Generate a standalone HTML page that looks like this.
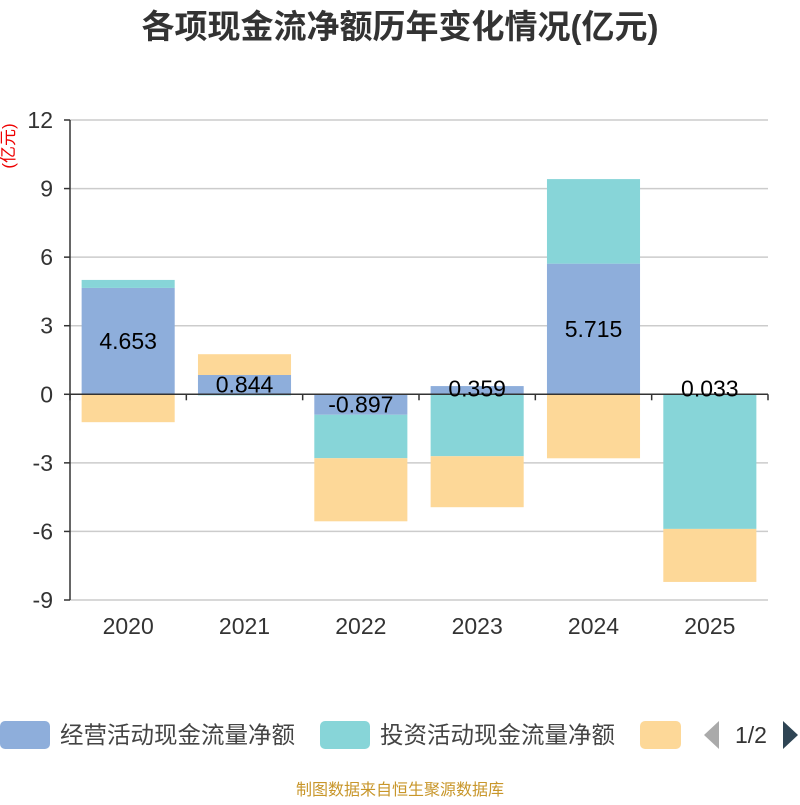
<!DOCTYPE html>
<html><head><meta charset="utf-8"><style>
body{margin:0;background:#fff;}
svg text{font-family:"Liberation Sans","Noto Sans CJK SC",sans-serif;}
</style></head><body>
<svg width="800" height="800" viewBox="0 0 800 800" xmlns="http://www.w3.org/2000/svg">
<text x="400" y="38" text-anchor="middle" font-size="33" font-weight="bold" fill="#333">各项现金流净额历年变化情况(亿元)</text>
<text transform="translate(14,146) rotate(-90)" text-anchor="middle" font-size="17" fill="#e00">(亿元)</text>
<g id="grid"></g>
<g id="bars"></g>
<g id="axes"></g>
<g id="labels"></g>
<g>
<rect x="0" y="721" width="50" height="28" rx="5" fill="#8eaedb"/>
<text x="60" y="743" font-size="23.5" fill="#444">经营活动现金流量净额</text>
<rect x="320" y="721" width="50" height="28" rx="5" fill="#87d5d8"/>
<text x="380" y="743" font-size="23.5" fill="#444">投资活动现金流量净额</text>
<rect x="640" y="721" width="41" height="28" rx="5" fill="#fdd898"/>
<polygon points="719,721 719,749 704,735" fill="#aaa"/>
<text x="751" y="743" text-anchor="middle" font-size="23" fill="#333">1/2</text>
<polygon points="783,721 783,749 798,735" fill="#2f4554"/>
</g>
<text x="400" y="795" text-anchor="middle" font-size="16" fill="#c8962a">制图数据来自恒生聚源数据库</text>
</svg>
<script>
const categories=["2020","2021","2022","2023","2024","2025"];
const operating=[4.653,0.844,-0.897,0.359,5.715,0.033];
const investing=[0.35,-0.05,-1.9,-2.71,3.7,-5.89];
const financing=[-1.22,0.91,-2.76,-2.23,-2.8,-2.32];
const yTicks=[12,9,6,3,0,-3,-6,-9];
const NS="http://www.w3.org/2000/svg";
const x0=70,x1=768,yTop=120,yBot=600,yMax=12,yMin=-9;
const y=v=>yTop+(yMax-v)*(yBot-yTop)/(yMax-yMin);
const bw=(x1-x0)/categories.length;
const xc=i=>x0+bw*(i+0.5);
function mk(tag,attrs,parent){const e=document.createElementNS(NS,tag);for(const k in attrs)e.setAttribute(k,attrs[k]);parent.appendChild(e);return e;}
const grid=document.getElementById('grid'),axes=document.getElementById('axes'),bars=document.getElementById('bars'),labels=document.getElementById('labels');
yTicks.forEach(t=>{
  if(t!==0){const l=mk('line',{x1:x0,x2:x1,y1:y(t),y2:y(t),stroke:'#ccc','stroke-width':1.5},grid);
  
  }
  const tk=mk('line',{x1:x0-6,x2:x0,y1:y(t),y2:y(t),stroke:'#333','stroke-width':1.5},axes);
  
  
  const tx=mk('text',{x:x0-17,y:y(t)+8,'text-anchor':'end','font-size':23,fill:'#333'},axes);
  tx.textContent=t;
  
  
});
const series=[[operating,'#8eaedb','operating'],[investing,'#87d5d8','investing'],[financing,'#fdd898','financing']];
categories.forEach((c,i)=>{
  let pos=0,neg=0;
  series.forEach(([arr,col,nm])=>{
    const v=arr[i];let a,b;
    if(v>=0){a=pos;b=pos+v;pos=b;}else{a=neg;b=neg+v;neg=b;}
    const r=mk('rect',{x:xc(i)-bw*0.4,width:bw*0.8,y:Math.min(y(a),y(b)),height:Math.abs(y(a)-y(b)),fill:col},bars);
    
    
    if(nm==='operating'){
      let cy=(y(a)+y(b))/2;
      if(Math.abs(y(a)-y(b))<14) cy=y(0)-6;
      const t=mk('text',{x:xc(i),y:cy+8,'text-anchor':'middle','font-size':23,fill:'#000'},labels);
      t.textContent=v;
      
      
    }
  });
  const lt=mk('text',{x:xc(i),y:634,'text-anchor':'middle','font-size':23,fill:'#333'},axes);
  lt.textContent=c;
  
  
});
for(let i=0;i<=categories.length;i++){
  const t=mk('line',{x1:x0+bw*i,x2:x0+bw*i,y1:y(0),y2:y(0)+6,stroke:'#333','stroke-width':1.5},axes);
  
  
}
const xa=mk('line',{x1:x0,x2:x1,y1:y(0),y2:y(0),stroke:'#333','stroke-width':1.5},axes);


const ya=mk('line',{x1:x0,x2:x0,y1:yTop,y2:yBot,stroke:'#333','stroke-width':1.5},axes);


</script>
</body></html>
